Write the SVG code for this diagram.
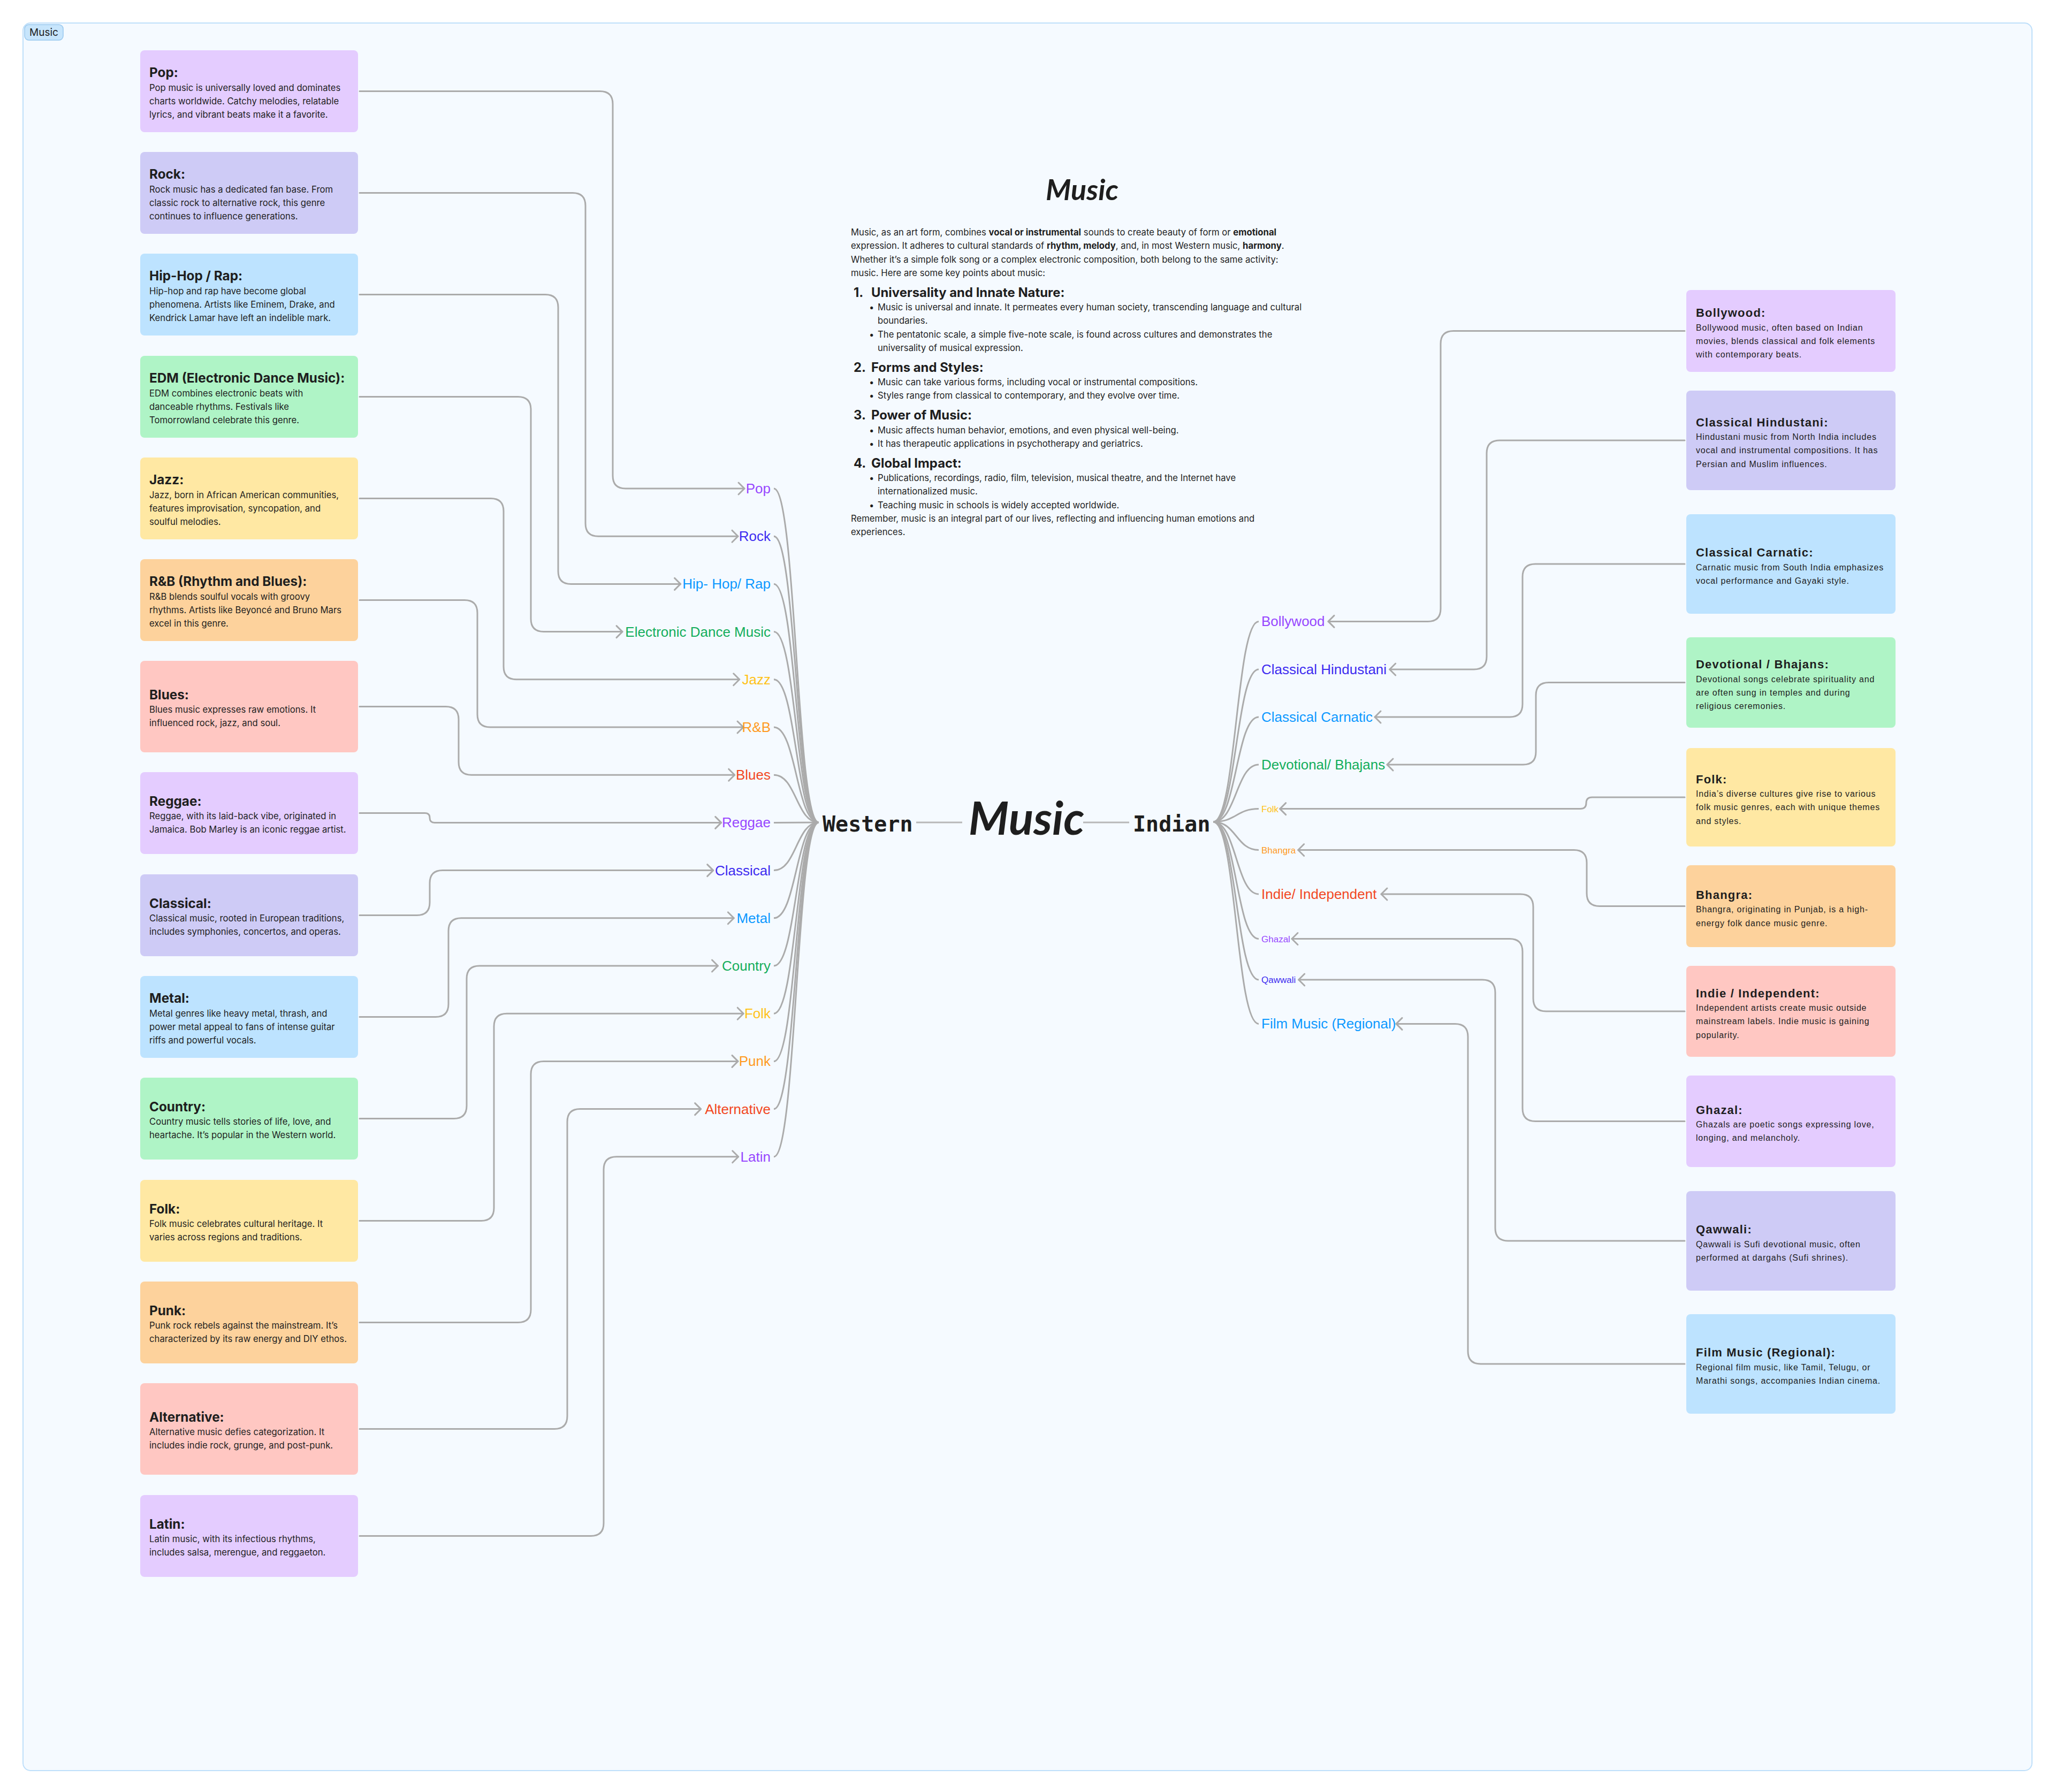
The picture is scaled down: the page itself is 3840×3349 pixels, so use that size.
<svg xmlns="http://www.w3.org/2000/svg" width="3840" height="3349" viewBox="0 0 3840 3349">
<defs>
<marker id="arr" markerUnits="userSpaceOnUse" viewBox="-16 -16 32 32" markerWidth="32" markerHeight="32" refX="0" refY="0" orient="auto">
<path d="M-11,-11 L0,0 L-11,11" fill="none" stroke="#ABABAB" stroke-width="3" stroke-linecap="round" stroke-linejoin="round"/>
</marker>
</defs>
<style>
.conn{fill:none;stroke:#ABABAB;stroke-width:3;stroke-linecap:round}
.fan{fill:none;stroke:#ABABAB;stroke-width:3}
.hub{fill:none;stroke:#B8B8B8;stroke-width:3}
.tl{font-family:Inter,"Liberation Sans",sans-serif;font-weight:700;font-size:24.3px;fill:#1E1E1E}
.bl{font-family:Inter,"Liberation Sans",sans-serif;font-size:16.7px;fill:#1E1E1E}
.tr{font-family:"Liberation Sans",Arial,sans-serif;font-weight:700;font-size:22px;letter-spacing:1.2px;fill:#1E1E1E}
.br{font-family:"Liberation Sans",Arial,sans-serif;font-size:16px;letter-spacing:0.8px;fill:#1E1E1E}
.lbl{font-family:"Liberation Sans",Arial,sans-serif;font-size:26px}
.lbs{font-family:"Liberation Sans",Arial,sans-serif;font-size:17px}
.le{text-anchor:end}
.mono{font-family:"DejaVu Sans Mono","Liberation Mono",monospace;font-weight:700;font-size:40px;fill:#1E1E1E}
.script{font-family:Lato,"Noto Sans",sans-serif;font-style:italic;font-weight:700;fill:#1E1E1E}
.p{font-family:Inter,"Liberation Sans",sans-serif;font-size:16.7px;fill:#1E1E1E}
.h{font-family:Inter,"Liberation Sans",sans-serif;font-size:23.9px;font-weight:700;fill:#1E1E1E}
.b{font-weight:700}
.c1{fill:#9747FF}.c2{fill:#3D2BF0}.c3{fill:#0D99FF}.c4{fill:#14AE5C}.c5{fill:#FFC21A}.c6{fill:#FF9A1F}.c7{fill:#F24822}
.f1{fill:#E4CCFF}.f2{fill:#CECBF6}.f3{fill:#BDE3FF}.f4{fill:#AFF4C6}.f5{fill:#FFE8A3}.f6{fill:#FDD29C}.f7{fill:#FFC7C2}
</style>
<rect width="3840" height="3349" fill="#FFFFFF"/>
<g id="frame">
<rect x="43" y="43" width="3754" height="3266" rx="14" fill="#F5FAFF" stroke="#BEDFFA" stroke-width="2"/>
<rect x="46" y="46" width="72" height="29" rx="8" fill="#C7E5FC" stroke="#98C8EE" stroke-width="1.5"/>
<text x="55" y="67" font-family="Inter,'Liberation Sans',sans-serif" font-size="19" fill="#1E1E1E">Music</text>
</g>

<g id="connectors">
<path class="conn" marker-end="url(#arr)" d="M672,170.5 H1121 Q1145,170.5 1145,194.5 V889 Q1145,913 1169,913 H1391"/>
<path class="conn" marker-end="url(#arr)" d="M672,360.5 H1070 Q1094,360.5 1094,384.5 V978.2 Q1094,1002.2 1118,1002.2 H1379"/>
<path class="conn" marker-end="url(#arr)" d="M672,550.5 H1019 Q1043,550.5 1043,574.5 V1067.4 Q1043,1091.4 1067,1091.4 H1271.6"/>
<path class="conn" marker-end="url(#arr)" d="M672,741.5 H968 Q992,741.5 992,765.5 V1156.6 Q992,1180.6 1016,1180.6 H1163"/>
<path class="conn" marker-end="url(#arr)" d="M672,931.5 H917 Q941,931.5 941,955.5 V1245.8 Q941,1269.8 965,1269.8 H1381.7"/>
<path class="conn" marker-end="url(#arr)" d="M672,1121.5 H868 Q892,1121.5 892,1145.5 V1335 Q892,1359 916,1359 H1389"/>
<path class="conn" marker-end="url(#arr)" d="M672,1320.5 H833 Q857,1320.5 857,1344.5 V1424.2 Q857,1448.2 881,1448.2 H1372.7"/>
<path class="conn" marker-end="url(#arr)" d="M672,1519.5 H794 Q803,1519.5 803,1528.5 Q803,1537.4 812,1537.4 H1347.7"/>
<path class="conn" marker-end="url(#arr)" d="M672,1710.5 H779 Q803,1710.5 803,1686.5 V1650.6 Q803,1626.6 827,1626.6 H1332.7"/>
<path class="conn" marker-end="url(#arr)" d="M672,1900.5 H814 Q838,1900.5 838,1876.5 V1739.8 Q838,1715.8 862,1715.8 H1371.3"/>
<path class="conn" marker-end="url(#arr)" d="M672,2090.5 H848 Q872,2090.5 872,2066.5 V1829 Q872,1805 896,1805 H1341.5"/>
<path class="conn" marker-end="url(#arr)" d="M672,2281.5 H899 Q923,2281.5 923,2257.5 V1918.2 Q923,1894.2 947,1894.2 H1389.2"/>
<path class="conn" marker-end="url(#arr)" d="M672,2471.5 H968 Q992,2471.5 992,2447.5 V2007.4 Q992,1983.4 1016,1983.4 H1379"/>
<path class="conn" marker-end="url(#arr)" d="M672,2670.5 H1036 Q1060,2670.5 1060,2646.5 V2096.6 Q1060,2072.6 1084,2072.6 H1309.6"/>
<path class="conn" marker-end="url(#arr)" d="M672,2870.5 H1104 Q1128,2870.5 1128,2846.5 V2185.8 Q1128,2161.8 1152,2161.8 H1379.7"/>
<path class="fan" d="M1446,913 C1488,913 1488,1537 1530,1537"/>
<path class="fan" d="M1446,1002.2 C1488,1002.2 1488,1537 1530,1537"/>
<path class="fan" d="M1446,1091.4 C1488,1091.4 1488,1537 1530,1537"/>
<path class="fan" d="M1446,1180.6 C1488,1180.6 1488,1537 1530,1537"/>
<path class="fan" d="M1446,1269.8 C1488,1269.8 1488,1537 1530,1537"/>
<path class="fan" d="M1446,1359 C1488,1359 1488,1537 1530,1537"/>
<path class="fan" d="M1446,1448.2 C1488,1448.2 1488,1537 1530,1537"/>
<path class="fan" d="M1446,1537.4 L1530,1537"/>
<path class="fan" d="M1446,1626.6 C1488,1626.6 1488,1537 1530,1537"/>
<path class="fan" d="M1446,1715.8 C1488,1715.8 1488,1537 1530,1537"/>
<path class="fan" d="M1446,1805 C1488,1805 1488,1537 1530,1537"/>
<path class="fan" d="M1446,1894.2 C1488,1894.2 1488,1537 1530,1537"/>
<path class="fan" d="M1446,1983.4 C1488,1983.4 1488,1537 1530,1537"/>
<path class="fan" d="M1446,2072.6 C1488,2072.6 1488,1537 1530,1537"/>
<path class="fan" d="M1446,2161.8 C1488,2161.8 1488,1537 1530,1537"/>
<path class="hub" d="M1712,1537 H1798"/>
<path class="hub" d="M2024,1537 H2110"/>
<path class="fan" d="M2267,1536 C2310,1536 2310,1161.4 2352,1161.4"/>
<path class="fan" d="M2267,1536 C2310,1536 2310,1251 2352,1251"/>
<path class="fan" d="M2267,1536 C2310,1536 2310,1340 2352,1340"/>
<path class="fan" d="M2267,1536 C2310,1536 2310,1429 2352,1429"/>
<path class="fan" d="M2267,1536 C2310,1536 2310,1511.6 2352,1511.6"/>
<path class="fan" d="M2267,1536 C2310,1536 2310,1588.5 2352,1588.5"/>
<path class="fan" d="M2267,1536 C2310,1536 2310,1671 2352,1671"/>
<path class="fan" d="M2267,1536 C2310,1536 2310,1754.5 2352,1754.5"/>
<path class="fan" d="M2267,1536 C2310,1536 2310,1831 2352,1831"/>
<path class="fan" d="M2267,1536 C2310,1536 2310,1913.4 2352,1913.4"/>
<path class="conn" marker-end="url(#arr)" d="M3148,618.5 H2716 Q2692,618.5 2692,642.5 V1137.4 Q2692,1161.4 2668,1161.4 H2482"/>
<path class="conn" marker-end="url(#arr)" d="M3148,823 H2802 Q2778,823 2778,847 V1227 Q2778,1251 2754,1251 H2596.7"/>
<path class="conn" marker-end="url(#arr)" d="M3148,1054 H2869 Q2845,1054 2845,1078 V1316 Q2845,1340 2821,1340 H2569"/>
<path class="conn" marker-end="url(#arr)" d="M3148,1275.5 H2894 Q2870,1275.5 2870,1299.5 V1405 Q2870,1429 2846,1429 H2592"/>
<path class="conn" marker-end="url(#arr)" d="M3148,1490 H2975 Q2964,1490 2964,1500.8 Q2964,1511.6 2953,1511.6 H2391.7"/>
<path class="conn" marker-end="url(#arr)" d="M3148,1693.5 H2989 Q2965,1693.5 2965,1669.5 V1612.5 Q2965,1588.5 2941,1588.5 H2425.7"/>
<path class="conn" marker-end="url(#arr)" d="M3148,1890 H2889 Q2865,1890 2865,1866 V1695 Q2865,1671 2841,1671 H2581"/>
<path class="conn" marker-end="url(#arr)" d="M3148,2095.5 H2869 Q2845,2095.5 2845,2071.5 V1778.5 Q2845,1754.5 2821,1754.5 H2414"/>
<path class="conn" marker-end="url(#arr)" d="M3148,2319 H2818 Q2794,2319 2794,2295 V1855 Q2794,1831 2770,1831 H2426.7"/>
<path class="conn" marker-end="url(#arr)" d="M3148,2549 H2767 Q2743,2549 2743,2525 V1937.4 Q2743,1913.4 2719,1913.4 H2609"/>
</g>

<g id="hub-music"><text class="script" x="1918" y="1560" font-size="86" text-anchor="middle">Music</text></g>
<g id="hub-western"><text class="mono" x="1537" y="1554">Western</text></g>
<g id="hub-indian"><text class="mono" x="2117" y="1554">Indian</text></g>

<g id="w-labels">
<text class="lbl le c1" x="1440" y="922">Pop</text>
<text class="lbl le c2" x="1440" y="1011.2">Rock</text>
<text class="lbl le c3" x="1440" y="1100.4">Hip- Hop/ Rap</text>
<text class="lbl le c4" x="1440" y="1189.6">Electronic Dance Music</text>
<text class="lbl le c5" x="1440" y="1278.8">Jazz</text>
<text class="lbl le c6" x="1440" y="1368">R&amp;B</text>
<text class="lbl le c7" x="1440" y="1457.2">Blues</text>
<text class="lbl le c1" x="1440" y="1546.4">Reggae</text>
<text class="lbl le c2" x="1440" y="1635.6">Classical</text>
<text class="lbl le c3" x="1440" y="1724.8">Metal</text>
<text class="lbl le c4" x="1440" y="1814">Country</text>
<text class="lbl le c5" x="1440" y="1903.2">Folk</text>
<text class="lbl le c6" x="1440" y="1992.4">Punk</text>
<text class="lbl le c7" x="1440" y="2081.6">Alternative</text>
<text class="lbl le c1" x="1440" y="2170.8">Latin</text>
</g>

<g id="i-labels">
<text class="lbl c1" x="2357" y="1170.4">Bollywood</text>
<text class="lbl c2" x="2357" y="1260">Classical Hindustani</text>
<text class="lbl c3" x="2357" y="1349">Classical Carnatic</text>
<text class="lbl c4" x="2357" y="1438">Devotional/ Bhajans</text>
<text class="lbs c5" x="2357" y="1517.6">Folk</text>
<text class="lbs c6" x="2357" y="1594.5">Bhangra</text>
<text class="lbl c7" x="2357" y="1680">Indie/ Independent</text>
<text class="lbs c1" x="2357" y="1760.5">Ghazal</text>
<text class="lbs c2" x="2357" y="1837">Qawwali</text>
<text class="lbl c3" x="2357" y="1922.4">Film Music (Regional)</text>
</g>

<g id="card-pop"><rect class="f1" x="262" y="94" width="407" height="153" rx="8"/>
<text class="tl" x="279" y="144">Pop:</text>
<text class="bl" x="279" y="169.5">Pop music is universally loved and dominates</text>
<text class="bl" x="279" y="194.8">charts worldwide. Catchy melodies, relatable</text>
<text class="bl" x="279" y="220.1">lyrics, and vibrant beats make it a favorite.</text></g>
<g id="card-rock"><rect class="f2" x="262" y="284" width="407" height="153" rx="8"/>
<text class="tl" x="279" y="334">Rock:</text>
<text class="bl" x="279" y="359.5">Rock music has a dedicated fan base. From</text>
<text class="bl" x="279" y="384.8">classic rock to alternative rock, this genre</text>
<text class="bl" x="279" y="410.1">continues to influence generations.</text></g>
<g id="card-hiphop"><rect class="f3" x="262" y="474" width="407" height="153" rx="8"/>
<text class="tl" x="279" y="524">Hip-Hop / Rap:</text>
<text class="bl" x="279" y="549.5">Hip-hop and rap have become global</text>
<text class="bl" x="279" y="574.8">phenomena. Artists like Eminem, Drake, and</text>
<text class="bl" x="279" y="600.1">Kendrick Lamar have left an indelible mark.</text></g>
<g id="card-edm"><rect class="f4" x="262" y="665" width="407" height="153" rx="8"/>
<text class="tl" x="279" y="715">EDM (Electronic Dance Music):</text>
<text class="bl" x="279" y="740.5">EDM combines electronic beats with</text>
<text class="bl" x="279" y="765.8">danceable rhythms. Festivals like</text>
<text class="bl" x="279" y="791.1">Tomorrowland celebrate this genre.</text></g>
<g id="card-jazz"><rect class="f5" x="262" y="855" width="407" height="153" rx="8"/>
<text class="tl" x="279" y="905">Jazz:</text>
<text class="bl" x="279" y="930.5">Jazz, born in African American communities,</text>
<text class="bl" x="279" y="955.8">features improvisation, syncopation, and</text>
<text class="bl" x="279" y="981.1">soulful melodies.</text></g>
<g id="card-rnb"><rect class="f6" x="262" y="1045" width="407" height="153" rx="8"/>
<text class="tl" x="279" y="1095">R&amp;B (Rhythm and Blues):</text>
<text class="bl" x="279" y="1120.5">R&amp;B blends soulful vocals with groovy</text>
<text class="bl" x="279" y="1145.8">rhythms. Artists like Beyoncé and Bruno Mars</text>
<text class="bl" x="279" y="1171.1">excel in this genre.</text></g>
<g id="card-blues"><rect class="f7" x="262" y="1235" width="407" height="171" rx="8"/>
<text class="tl" x="279" y="1306.6">Blues:</text>
<text class="bl" x="279" y="1332.1">Blues music expresses raw emotions. It</text>
<text class="bl" x="279" y="1357.4">influenced rock, jazz, and soul.</text></g>
<g id="card-reggae"><rect class="f1" x="262" y="1443" width="407" height="153" rx="8"/>
<text class="tl" x="279" y="1505.6">Reggae:</text>
<text class="bl" x="279" y="1531.1">Reggae, with its laid-back vibe, originated in</text>
<text class="bl" x="279" y="1556.4">Jamaica. Bob Marley is an iconic reggae artist.</text></g>
<g id="card-classical"><rect class="f2" x="262" y="1634" width="407" height="153" rx="8"/>
<text class="tl" x="279" y="1696.6">Classical:</text>
<text class="bl" x="279" y="1722.1">Classical music, rooted in European traditions,</text>
<text class="bl" x="279" y="1747.4">includes symphonies, concertos, and operas.</text></g>
<g id="card-metal"><rect class="f3" x="262" y="1824" width="407" height="153" rx="8"/>
<text class="tl" x="279" y="1874">Metal:</text>
<text class="bl" x="279" y="1899.5">Metal genres like heavy metal, thrash, and</text>
<text class="bl" x="279" y="1924.8">power metal appeal to fans of intense guitar</text>
<text class="bl" x="279" y="1950.1">riffs and powerful vocals.</text></g>
<g id="card-country"><rect class="f4" x="262" y="2014" width="407" height="153" rx="8"/>
<text class="tl" x="279" y="2076.6">Country:</text>
<text class="bl" x="279" y="2102.1">Country music tells stories of life, love, and</text>
<text class="bl" x="279" y="2127.4">heartache. It’s popular in the Western world.</text></g>
<g id="card-folk"><rect class="f5" x="262" y="2205" width="407" height="153" rx="8"/>
<text class="tl" x="279" y="2267.6">Folk:</text>
<text class="bl" x="279" y="2293.1">Folk music celebrates cultural heritage. It</text>
<text class="bl" x="279" y="2318.4">varies across regions and traditions.</text></g>
<g id="card-punk"><rect class="f6" x="262" y="2395" width="407" height="153" rx="8"/>
<text class="tl" x="279" y="2457.6">Punk:</text>
<text class="bl" x="279" y="2483.1">Punk rock rebels against the mainstream. It’s</text>
<text class="bl" x="279" y="2508.4">characterized by its raw energy and DIY ethos.</text></g>
<g id="card-alternative"><rect class="f7" x="262" y="2585" width="407" height="171" rx="8"/>
<text class="tl" x="279" y="2656.6">Alternative:</text>
<text class="bl" x="279" y="2682.1">Alternative music defies categorization. It</text>
<text class="bl" x="279" y="2707.4">includes indie rock, grunge, and post-punk.</text></g>
<g id="card-latin"><rect class="f1" x="262" y="2794" width="407" height="153" rx="8"/>
<text class="tl" x="279" y="2856.6">Latin:</text>
<text class="bl" x="279" y="2882.1">Latin music, with its infectious rhythms,</text>
<text class="bl" x="279" y="2907.4">includes salsa, merengue, and reggaeton.</text></g>

<g id="card-bollywood"><rect class="f1" x="3151" y="542" width="391" height="153" rx="8"/>
<text class="tr" x="3169" y="592">Bollywood:</text>
<text class="br" x="3169" y="617.5">Bollywood music, often based on Indian</text>
<text class="br" x="3169" y="642.8">movies, blends classical and folk elements</text>
<text class="br" x="3169" y="668.1">with contemporary beats.</text></g>
<g id="card-hindustani"><rect class="f2" x="3151" y="730" width="391" height="186" rx="8"/>
<text class="tr" x="3169" y="796.5">Classical Hindustani:</text>
<text class="br" x="3169" y="822">Hindustani music from North India includes</text>
<text class="br" x="3169" y="847.3">vocal and instrumental compositions. It has</text>
<text class="br" x="3169" y="872.6">Persian and Muslim influences.</text></g>
<g id="card-carnatic"><rect class="f3" x="3151" y="961" width="391" height="186" rx="8"/>
<text class="tr" x="3169" y="1040.2">Classical Carnatic:</text>
<text class="br" x="3169" y="1065.7">Carnatic music from South India emphasizes</text>
<text class="br" x="3169" y="1091">vocal performance and Gayaki style.</text></g>
<g id="card-devotional"><rect class="f4" x="3151" y="1191" width="391" height="169" rx="8"/>
<text class="tr" x="3169" y="1249">Devotional / Bhajans:</text>
<text class="br" x="3169" y="1274.5">Devotional songs celebrate spirituality and</text>
<text class="br" x="3169" y="1299.8">are often sung in temples and during</text>
<text class="br" x="3169" y="1325.1">religious ceremonies.</text></g>
<g id="card-ifolk"><rect class="f5" x="3151" y="1398" width="391" height="184" rx="8"/>
<text class="tr" x="3169" y="1463.5">Folk:</text>
<text class="br" x="3169" y="1489">India’s diverse cultures give rise to various</text>
<text class="br" x="3169" y="1514.3">folk music genres, each with unique themes</text>
<text class="br" x="3169" y="1539.6">and styles.</text></g>
<g id="card-bhangra"><rect class="f6" x="3151" y="1617" width="391" height="153" rx="8"/>
<text class="tr" x="3169" y="1679.7">Bhangra:</text>
<text class="br" x="3169" y="1705.2">Bhangra, originating in Punjab, is a high-</text>
<text class="br" x="3169" y="1730.5">energy folk dance music genre.</text></g>
<g id="card-indie"><rect class="f7" x="3151" y="1805" width="391" height="170" rx="8"/>
<text class="tr" x="3169" y="1863.5">Indie / Independent:</text>
<text class="br" x="3169" y="1889">Independent artists create music outside</text>
<text class="br" x="3169" y="1914.3">mainstream labels. Indie music is gaining</text>
<text class="br" x="3169" y="1939.6">popularity.</text></g>
<g id="card-ghazal"><rect class="f1" x="3151" y="2010" width="391" height="171" rx="8"/>
<text class="tr" x="3169" y="2081.6">Ghazal:</text>
<text class="br" x="3169" y="2107.1">Ghazals are poetic songs expressing love,</text>
<text class="br" x="3169" y="2132.4">longing, and melancholy.</text></g>
<g id="card-qawwali"><rect class="f2" x="3151" y="2226" width="391" height="186" rx="8"/>
<text class="tr" x="3169" y="2305.2">Qawwali:</text>
<text class="br" x="3169" y="2330.7">Qawwali is Sufi devotional music, often</text>
<text class="br" x="3169" y="2356">performed at dargahs (Sufi shrines).</text></g>
<g id="card-film"><rect class="f3" x="3151" y="2456" width="391" height="186" rx="8"/>
<text class="tr" x="3169" y="2535.2">Film Music (Regional):</text>
<text class="br" x="3169" y="2560.7">Regional film music, like Tamil, Telugu, or</text>
<text class="br" x="3169" y="2586">Marathi songs, accompanies Indian cinema.</text></g>

<g id="info">
<text class="script" x="2022" y="374" font-size="54" text-anchor="middle">Music</text>
<text class="p" x="1590" y="440">Music, as an art form, combines <tspan class="b">vocal or instrumental</tspan> sounds to create beauty of form or <tspan class="b">emotional</tspan></text>
<text class="p" x="1590" y="465.3">expression. It adheres to cultural standards of <tspan class="b">rhythm, melody</tspan>, and, in most Western music, <tspan class="b">harmony</tspan>.</text>
<text class="p" x="1590" y="490.5">Whether it’s a simple folk song or a complex electronic composition, both belong to the same activity:</text>
<text class="p" x="1590" y="515.8">music. Here are some key points about music:</text>
<text class="h" x="1595" y="555">1.</text><text class="h" x="1628" y="555">Universality and Innate Nature:</text>
<text class="p" x="1624" y="580">•</text><text class="p" x="1640" y="580">Music is universal and innate. It permeates every human society, transcending language and cultural</text>
<text class="p" x="1640" y="605.3">boundaries.</text>
<text class="p" x="1624" y="630.6">•</text><text class="p" x="1640" y="630.6">The pentatonic scale, a simple five-note scale, is found across cultures and demonstrates the</text>
<text class="p" x="1640" y="655.8">universality of musical expression.</text>
<text class="h" x="1595" y="695">2.</text><text class="h" x="1628" y="695">Forms and Styles:</text>
<text class="p" x="1624" y="720">•</text><text class="p" x="1640" y="720">Music can take various forms, including vocal or instrumental compositions.</text>
<text class="p" x="1624" y="745.4">•</text><text class="p" x="1640" y="745.4">Styles range from classical to contemporary, and they evolve over time.</text>
<text class="h" x="1595" y="784.4">3.</text><text class="h" x="1628" y="784.4">Power of Music:</text>
<text class="p" x="1624" y="809.6">•</text><text class="p" x="1640" y="809.6">Music affects human behavior, emotions, and even physical well-being.</text>
<text class="p" x="1624" y="834.9">•</text><text class="p" x="1640" y="834.9">It has therapeutic applications in psychotherapy and geriatrics.</text>
<text class="h" x="1595" y="874">4.</text><text class="h" x="1628" y="874">Global Impact:</text>
<text class="p" x="1624" y="899.2">•</text><text class="p" x="1640" y="899.2">Publications, recordings, radio, film, television, musical theatre, and the Internet have</text>
<text class="p" x="1640" y="924.4">internationalized music.</text>
<text class="p" x="1624" y="949.7">•</text><text class="p" x="1640" y="949.7">Teaching music in schools is widely accepted worldwide.</text>
<text class="p" x="1590" y="975">Remember, music is an integral part of our lives, reflecting and influencing human emotions and</text>
<text class="p" x="1590" y="1000.2">experiences.</text>
</g>
</svg>
